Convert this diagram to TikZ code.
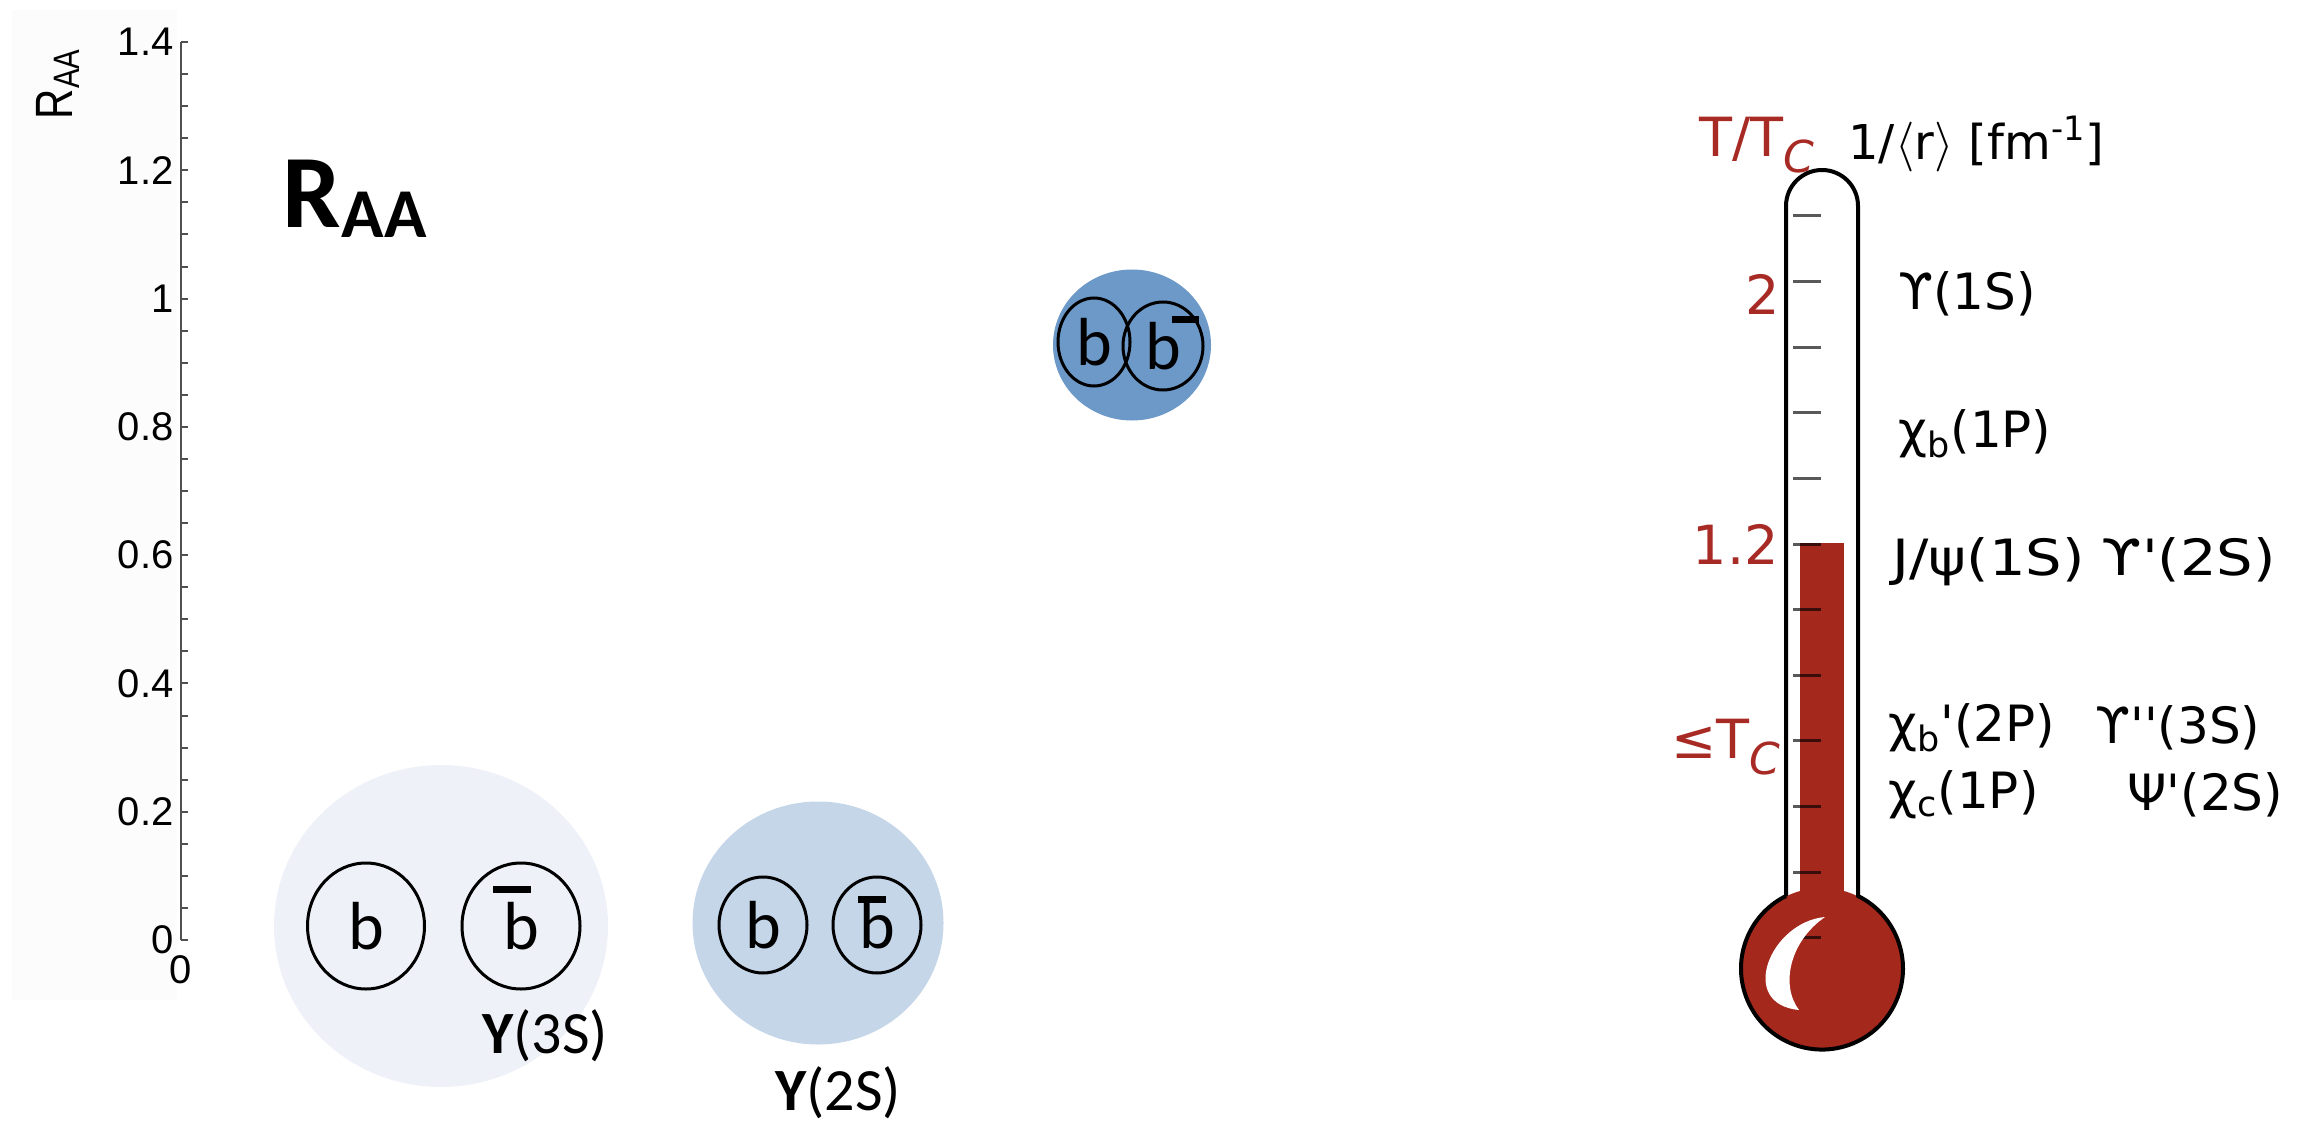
\documentclass[tikz,border=0pt]{standalone}
\usepackage{fontspec}
\setmainfont{Carlito}
\newfontfamily\plotfont{Liberation Sans}
\newfontfamily\thermofont{DejaVu Sans}
\usetikzlibrary{shapes.geometric,positioning}
\definecolor{statethree}{RGB}{238,241,248}
\definecolor{statetwo}{RGB}{197,214,233}
\definecolor{stateone}{RGB}{108,153,200}
\definecolor{mercury}{RGB}{165,40,28}
\definecolor{hotred}{RGB}{168,42,36}
\definecolor{axisgray}{RGB}{80,80,80}
% antiquark: shift, width and height of the bar over the b
\newcommand{\barb}[3]{\makebox[0pt][l]{\hspace*{#1}\smash{\rule[#3]{#2}{3.5pt}}}b}
\tikzset{
  quark/.style={draw,ellipse,line width=1.5pt,inner sep=0pt,font=\fontsize{34}{34}\selectfont},
  blob/.style={ellipse,inner sep=0pt},
  ticklab/.style={anchor=east,inner sep=0pt,font=\plotfont\fontsize{20}{20}\selectfont},
  statelab/.style={anchor=base,inner sep=0pt,font=\fontsize{30}{30}\selectfont},
  thermolab/.style={anchor=west,inner sep=0pt,font=\thermofont\fontsize{25}{25}\selectfont},
  templab/.style={anchor=east,inner sep=0pt,text=hotred,font=\thermofont\fontsize{27}{27}\selectfont},
  scaletick/.style={line width=1.5pt,draw=black,opacity=.65}
}

\begin{document}
\begin{tikzpicture}[x=0.5pt,y=-0.5pt]
  \useasboundingbox (0,0) rectangle (2307,1123);
  % R_AA axis
  \fill[gray!2] (12,10) rectangle (177,1000);
  \draw[axisgray,line width=1pt] (181,42) -- (181,940);
  \foreach \k in {0,...,28}
    \draw[axisgray,line width=1pt] (181,{940-\k*32.07}) -- ++(7,0);
  \foreach \v/\lab in {0/0,1/0.2,2/0.4,3/0.6,4/0.8,5/1,6/1.2,7/1.4}
    \node[ticklab] (tick\v) at (174,{940-\v*128.3}) {\lab};
  \node[ticklab,anchor=north] (xzero) at (181,955) {0};
  \node[rotate=90,inner sep=0pt,font=\plotfont\fontsize{21}{21}\selectfont] (ytitle) at (58,84)
    {\scalebox{1}[1.25]{R\textsubscript{AA}}};
  \node[anchor=base west,inner sep=0pt,font=\bfseries\fontsize{52}{52}\selectfont] (title) at (282,228) {R};
  \node[anchor=base west,inner sep=0pt,font=\bfseries\fontsize{35}{35}\selectfont] (titlesub)
    at ([yshift=-5pt]title.base east) {AA};

  % Upsilon(3S)
  \node[blob,fill=statethree,minimum width=167pt,minimum height=161pt] (ups3) at (441,926) {};
  \node[quark,minimum width=58.5pt,minimum height=63pt] (b3) at (366,926) {b};
  \node[quark,minimum width=59pt,minimum height=63pt] (bb3) at (521,926) {\barb{-5pt}{19pt}{28pt}};
  \node[statelab] (lab3) at (545,1053) {\textbf{Y}(3S)};

  % Upsilon(2S)
  \node[blob,fill=statetwo,minimum width=125.5pt,minimum height=121.5pt] (ups2) at (818,923) {};
  \node[quark,minimum width=44pt,minimum height=48pt] (b2) at (763,925) {b};
  \node[quark,minimum width=44pt,minimum height=48pt] (bb2) at (877,925) {\barb{-0.5pt}{14pt}{22.5pt}};
  \node[statelab] (lab2) at (838,1110) {\textbf{Y}(2S)};

  % Upsilon(1S), tightly bound
  \node[blob,fill=stateone,minimum width=79pt,minimum height=75.5pt] (ups1) at (1132,345) {};
  \node[quark,minimum width=36pt,minimum height=44pt] (b1) at (1094,342) {b};
  \node[quark,minimum width=40pt,minimum height=44pt] (bb1) at (1163,346) {\barb{13.5pt}{13.5pt}{23pt}};

  % thermometer
  \fill[white] (1786,896) -- (1786,206) arc[start angle=180,end angle=360,radius=36] -- (1858,896) -- cycle;
  \fill[mercury] (1822,969) circle[radius=81];
  \fill[mercury] (1800,543) rectangle (1844,930);
  \foreach \k in {0,...,11}
    \draw[scaletick] (1793,{216+\k*65.6}) -- ++(28,0);
  \draw[line width=2pt] (1786,896) -- (1786,206) arc[start angle=180,end angle=360,radius=36]
    -- (1858,896) arc[start angle=-63.6,end angle=243.6,radius=81];
  \fill[white] (1825,917) .. controls (1770,922) and (1737,1004) .. (1799,1010)
    .. controls (1780,985) and (1790,941) .. (1825,917) -- cycle;

  % temperature scale
  \node[templab,anchor=west] (ttc) at (1699,145) {T/T\raisebox{-0.3em}{\fontsize{22}{22}\selectfont\itshape C}};
  \node[thermolab,font=\thermofont\fontsize{24}{24}\selectfont] (radius) at (1848,144)
    {1/\ensuremath{\langle}r\ensuremath{\rangle} [fm\textsuperscript{-1}]};
  \node[templab] (ttwo) at (1780,294) {2};
  \node[templab] (tonetwo) at (1779,544) {1.2};
  \node[templab] (ttc2) at (1781,747) {≤T\raisebox{-0.3em}{\fontsize{22}{22}\selectfont\itshape C}};

  % quarkonium states
  \node[thermolab] (ups1s) at (1898,294) {ϒ(1S)};
  \node[thermolab] (chib1p) at (1898,434) {χ\textsubscript{b}(1P)};
  \node[thermolab] (jpsi) at (1892,562) {\scalebox{1.15}[1]{J/ψ(1S)\hspace{0.3em}ϒ'(2S)}};
  \node[thermolab] (chib2p) at (1888,728) {χ\textsubscript{b}'(2P)};
  \node[thermolab] (ups3s) at (2095,728) {ϒ''(3S)};
  \node[thermolab] (chic1p) at (1888,795) {χ\textsubscript{c}(1P)};
  \node[thermolab] (psi2s) at (2127,795) {Ψ'(2S)};
\end{tikzpicture}
\end{document}
